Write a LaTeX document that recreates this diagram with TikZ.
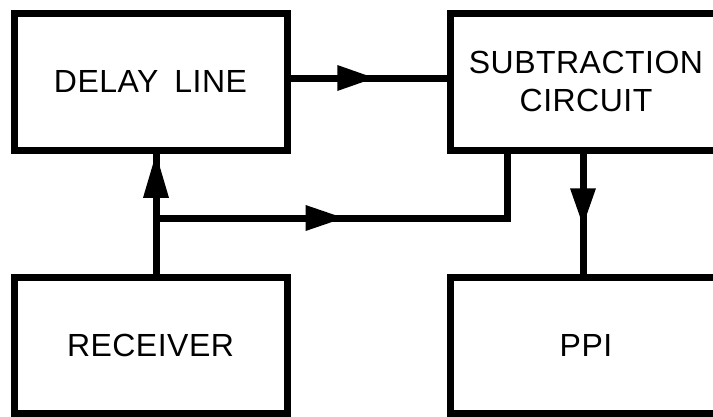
\documentclass[tikz,border=0pt]{standalone}
\usepackage{fontspec}
\setmainfont[LetterSpace=1.5]{Liberation Sans}
\usetikzlibrary{decorations.markings}
\begin{document}
\begin{tikzpicture}[x=1pt,y=-1pt,
  blk/.style={draw, line width=7pt, inner sep=0pt, align=center,
    font=\fontsize{32}{38}\selectfont},
  conn/.style={line width=7pt, line join=miter},
  midarrow/.style n args={2}{postaction={decorate},
    decoration={markings, mark=at position #1 with
      {\fill (0pt,-13pt) -- (#2,0pt) -- (0pt,13pt) -- cycle;}}}
]
\useasboundingbox (0,0) rectangle (713,416);
\clip (0,0) rectangle (713,416);
\node[blk, minimum width=273pt, minimum height=137pt] (delay) at (150.5,81.5) {DELAY\hspace{0.5em}LINE};
\node[blk, minimum width=272pt, minimum height=137pt] (sub) at (586,81.5) {SUBTRACTION\\CIRCUIT};
\node[blk, minimum width=273pt, minimum height=136pt] (rec) at (150.5,345) {RECEIVER};
\node[blk, minimum width=272pt, minimum height=136pt] (ppi) at (586,345) {PPI};
\draw[conn, midarrow={0.30}{37pt}] ([yshift=3.5pt]delay.east) -- ([yshift=3.5pt]sub.west);
\draw[conn, midarrow={0.63}{44pt}] ([xshift=5.5pt]rec.north) -- ([xshift=5.5pt]delay.south);
\coordinate (br) at (156,218);
\coordinate (bj) at (507,218);
\draw[conn, midarrow={0.36}{38pt}] (br) -- (bj) -- (bj |- sub.south);
\draw[conn, midarrow={0.29}{37pt}] ([xshift=-3pt]sub.south) -- ([xshift=-3pt]ppi.north);
\end{tikzpicture}
\end{document}
